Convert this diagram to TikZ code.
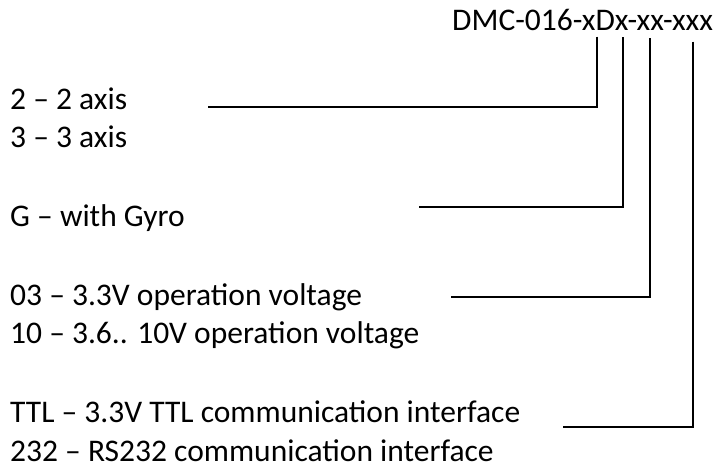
\documentclass[tikz,border=0pt]{standalone}
\usepackage{fontspec}
\setmainfont{Carlito}
\begin{document}
\begin{tikzpicture}[x=1pt,y=-1pt,
  lbl/.style={anchor=base west,inner sep=0pt,text depth=0pt,font=\fontsize{31.5}{39}\selectfont},
  conn/.style={draw=black,line width=1.7pt}]
\fill[white] (0,0) rectangle (722,466);
\useasboundingbox (0,0) rectangle (722,466);
\node[lbl] (title) at (452,30.6) {DMC-016-xDx-xx-xxx};
\node[lbl] (a2) at (10,109) {2 – 2 axis};
\node[lbl] (a3) at (10,147) {3 – 3 axis};
\node[lbl] (g) at (10,226) {G – with Gyro};
\node[lbl] (v03) at (10,305) {03 – 3.3V operation voltage};
\node[lbl] (v10) at (10,343.5) {10 – 3.6.. 10V operation voltage};
\node[lbl] (ttl) at (10,422.3) {TTL – 3.3V TTL communication interface};
\node[lbl] (rs) at (10,461) {232 – RS232 communication interface};
\coordinate (s1) at (596.7,36.7);
\coordinate (e1) at (208,106.7);
\coordinate (s2) at (622.7,37);
\coordinate (e2) at (419,206.7);
\coordinate (s3) at (650,38.3);
\coordinate (e3) at (450.7,297.3);
\coordinate (s4) at (693.3,41.7);
\coordinate (e4) at (563.3,426.7);
\draw[conn] (s1) |- (e1);
\draw[conn] (s2) |- (e2);
\draw[conn] (s3) |- (e3);
\draw[conn] (s4) |- (e4);
\end{tikzpicture}
\end{document}
